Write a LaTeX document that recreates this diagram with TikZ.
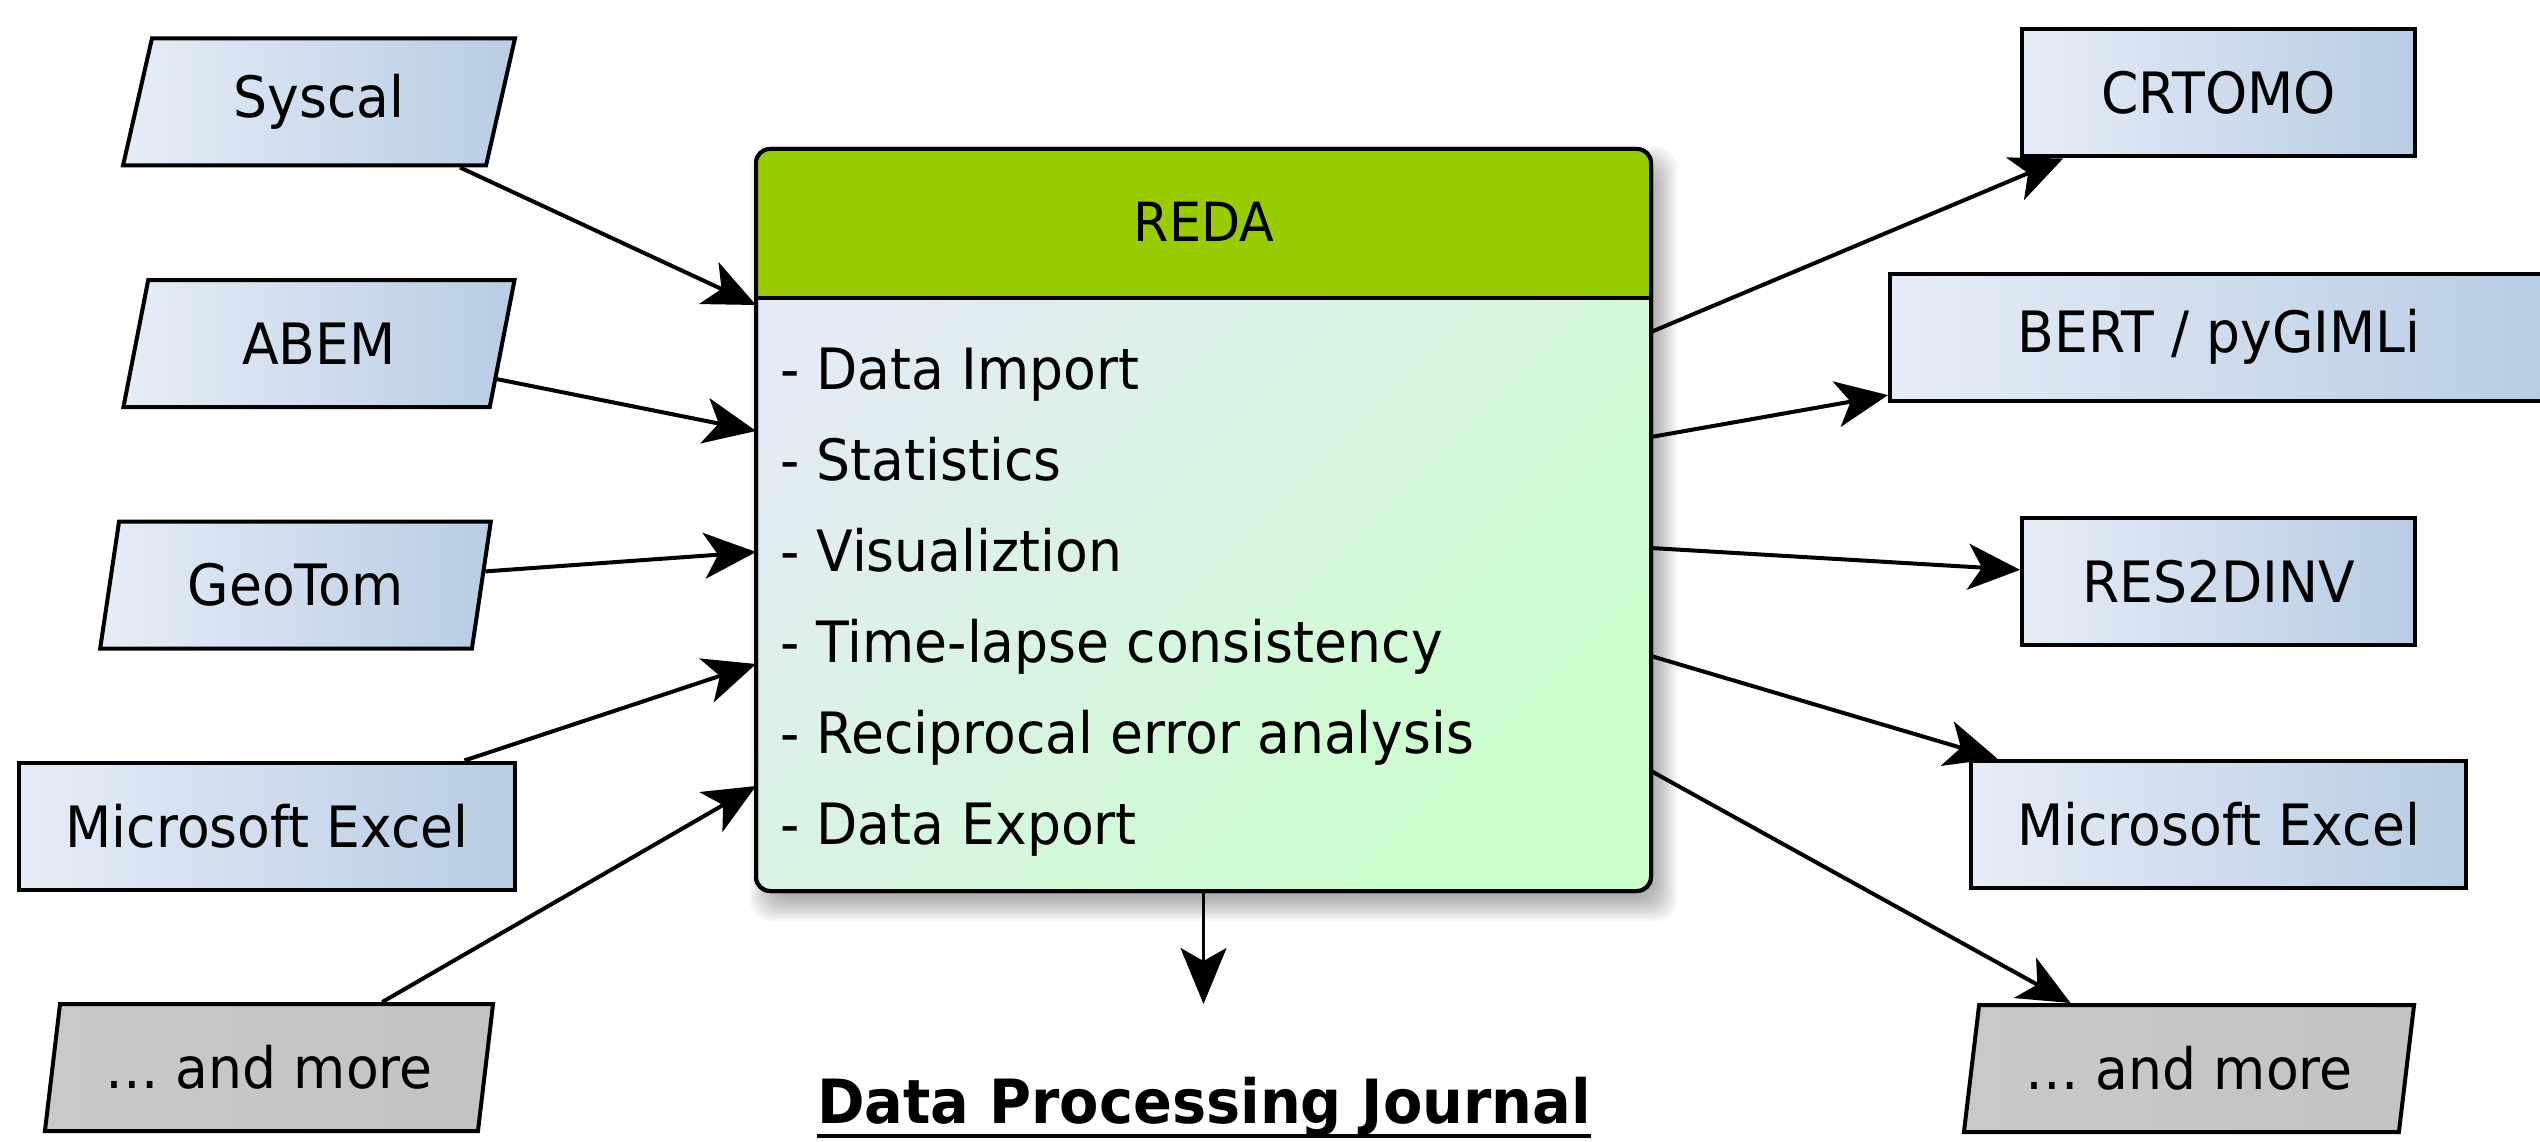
\documentclass[tikz,border=0pt]{standalone}
\usepackage{fontspec}
\setmainfont{DejaVu Sans}[FakeStretch=0.94]
\usetikzlibrary{shapes.geometric,arrows.meta,calc,backgrounds}

\definecolor{lblL}{HTML}{E6EDF7}
\definecolor{lblR}{HTML}{B8CCE4}
\definecolor{grayL}{HTML}{C9C9C9}
\definecolor{grayR}{HTML}{C3C3C3}
\definecolor{hdr}{HTML}{99CC00}
\definecolor{bodyA}{HTML}{E4EAF6}
\definecolor{bodyB}{HTML}{CCFFCC}

\begin{document}
\begin{tikzpicture}[x=1pt,y=-1pt,
  lbl/.style={draw=black, line width=4pt, left color=lblL, right color=lblR,
    font=\fontsize{57}{68}\selectfont, inner sep=0pt, minimum height=127pt},
  rectlbl/.style={lbl, rectangle},
  paralbl/.style={lbl, trapezium, trapezium left angle=75, trapezium right angle=105,
    trapezium stretches=true},
  graypara/.style={paralbl, left color=grayL, right color=grayR},
  item/.style={anchor=base west, inner sep=0pt, font=\fontsize{57}{68}\selectfont},
  arr/.style={line width=4pt, -{Stealth[length=52pt,width=46pt,inset=14pt]}},
  darr/.style={line width=3pt, -{Stealth[length=56pt,width=46pt,inset=13pt]}},
]
\useasboundingbox (0,0) rectangle (2540,1142);

% input boxes
\node[paralbl, minimum width=392pt] (syscal) at (319,102) {Syscal};
\node[paralbl, minimum width=392pt] (abem) at (319,343.5) {ABEM};
\node[paralbl, minimum width=391pt] (geotom) at (295.5,585) {GeoTom};
\node[rectlbl, minimum width=496pt] (excelin) at (267,826) {Microsoft Excel};
\node[graypara, minimum width=450pt] (morein) at (269,1067.5) {… and more};

% output boxes
\node[rectlbl, minimum width=393pt] (crtomo) at (2218.5,93) {CRTOMO};
\node[rectlbl, minimum width=658pt] (bert) at (2219,337) {BERT / pyGIMLi};
\node[rectlbl, minimum width=393pt] (res2dinv) at (2218.5,581.5) {RES2DINV};
\node[rectlbl, minimum width=495pt] (excelout) at (2218.5,824) {Microsoft Excel};
\node[graypara, minimum width=452pt] (moreout) at (2189,1068.5) {… and more};

% central box
\node[draw=black, line width=4pt, rounded corners=14pt, outer sep=0pt,
  minimum width=895pt, minimum height=742pt,
  left color=bodyA, right color=bodyB, shading angle=45] (reda) at (1203.5,520) {};
\begin{pgfonlayer}{background}
  \foreach \d in {16,13.5,...,-8.5}
    \fill[black, opacity=0.035, rounded corners=20pt]
      ($(reda.north west)+(10-\d,14-\d)$) rectangle ($(reda.south east)+(10+\d,14+\d)$);
\end{pgfonlayer}
\begin{scope}
  \clip[rounded corners=14pt] (reda.north west) rectangle (reda.south east);
  \fill[hdr] (reda.north west) rectangle ($(reda.north east)+(0,149)$);
\end{scope}
\draw[line width=4pt] ($(reda.north west)+(0,149)$) -- ($(reda.north east)+(0,149)$);
\draw[line width=4pt, rounded corners=14pt] (reda.north west) rectangle (reda.south east);

\node[inner sep=0pt, font=\fontsize{54}{65}\selectfont] (redatitle) at (1204,222) {REDA};
\node[item] (l1) at (780,389) {- Data Import};
\node[item] (l2) at (780,480) {- Statistics};
\node[item] (l3) at (780,571) {- Visualiztion};
\node[item] (l4) at (780,662) {- Time-lapse consistency};
\node[item] (l5) at (780,753) {- Reciprocal error analysis};
\node[item] (l6) at (780,844) {- Data Export};

% connector end points on the central box
\coordinate (in1) at ($(reda.north west)+(0,156)$);
\coordinate (in2) at ($(reda.north west)+(0,282)$);
\coordinate (in3) at ($(reda.north west)+(0,403)$);
\coordinate (in4) at ($(reda.north west)+(0,515)$);
\coordinate (in5) at ($(reda.north west)+(0,637)$);
\coordinate (out1) at ($(reda.north east)+(0,183)$);
\coordinate (out2) at ($(reda.north east)+(0,288)$);
\coordinate (out3) at ($(reda.north east)+(0,399)$);
\coordinate (out4) at ($(reda.north east)+(0,507)$);
\coordinate (out5) at ($(reda.north east)+(0,622)$);
\coordinate (downend) at ($(reda.south)+(0,113)$);

\draw[arr] (syscal) -- (in1);
\draw[arr] (abem) -- (in2);
\draw[arr] (geotom) -- (in3);
\draw[arr] (excelin) -- (in4);
\draw[arr] (morein) -- (in5);
\draw[arr] (out1) -- (crtomo);
\draw[arr] (out2) -- (bert);
\draw[arr] (out3) -- (res2dinv);
\draw[arr] (out4) -- (excelout);
\draw[arr] (out5) -- (moreout);
\draw[darr] (reda.south) -- (downend);

% title
\node[anchor=base, inner sep=0pt, font=\fontsize{61}{73}\selectfont\bfseries] (title) at (1204,1123) {Data Processing Journal};
\draw[line width=4pt] ($(title.base west)+(0,13)$) -- ($(title.base east)+(0,13)$);
\end{tikzpicture}
\end{document}
